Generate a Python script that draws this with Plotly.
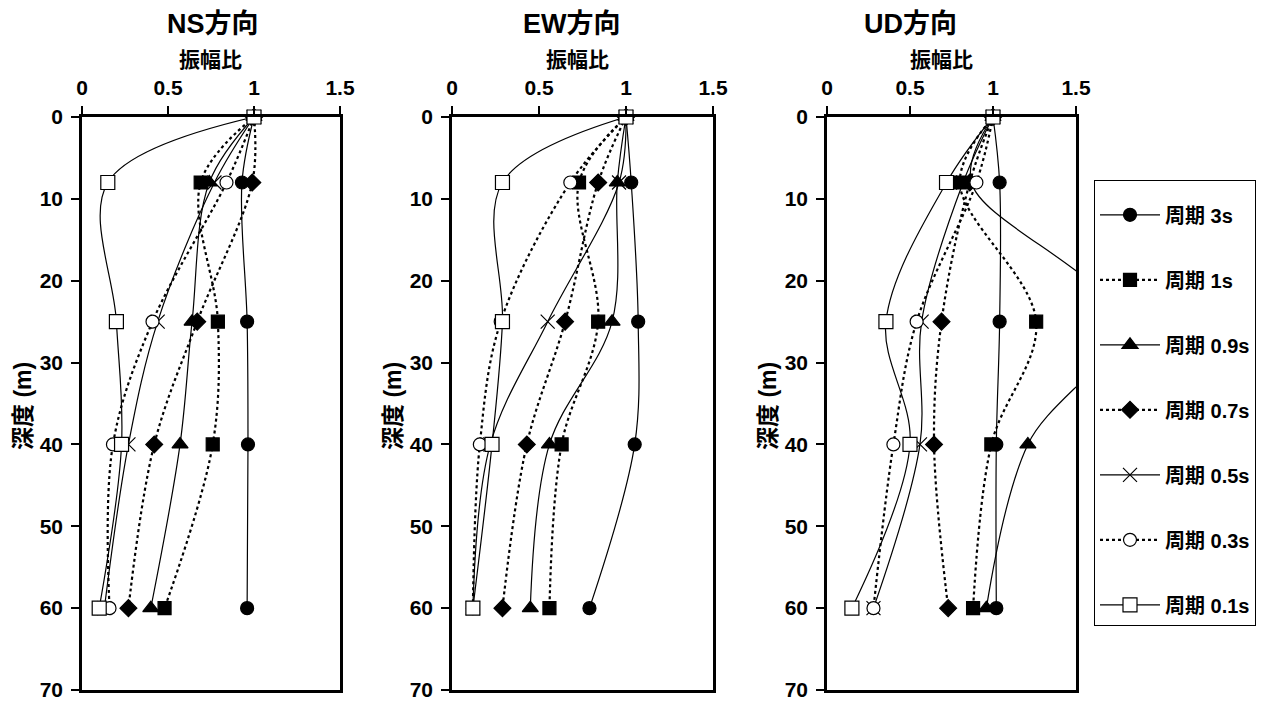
import plotly.graph_objects as go

depths = [0, 8, 25, 40, 60]
periods = ["周期 3s", "周期 1s", "周期 0.9s", "周期 0.7s", "周期 0.5s", "周期 0.3s", "周期 0.1s"]

ns_3s = [1, 0.93, 0.96, 0.965, 0.96]
ns_1s = [1, 0.69, 0.79, 0.76, 0.48]
ns_09s = [1, 0.74, 0.64, 0.57, 0.40]
ns_07s = [1, 0.99, 0.67, 0.42, 0.27]
ns_05s = [1, 0.77, 0.44, 0.27, 0.13]
ns_03s = [1, 0.84, 0.41, 0.18, 0.16]
ns_01s = [1, 0.15, 0.20, 0.23, 0.10]

ew_3s = [1, 1.03, 1.07, 1.05, 0.79]
ew_1s = [1, 0.73, 0.84, 0.63, 0.56]
ew_09s = [1, 0.95, 0.92, 0.56, 0.45]
ew_07s = [1, 0.84, 0.65, 0.43, 0.29]
ew_05s = [1, 0.96, 0.55, 0.22, 0.12]
ew_03s = [1, 0.68, 0.28, 0.16, 0.12]
ew_01s = [1, 0.29, 0.29, 0.23, 0.12]

ud_3s = [1, 1.04, 1.04, 1.02, 1.02]
ud_1s = [1, 0.80, 1.26, 0.99, 0.88]
ud_09s = [1, 0.87, 1.75, 1.21, 0.96]
ud_07s = [1, 0.86, 0.69, 0.645, 0.73]
ud_05s = [1, 0.82, 0.57, 0.56, 0.28]
ud_03s = [1, 0.90, 0.54, 0.40, 0.28]
ud_01s = [1, 0.72, 0.355, 0.50, 0.15]

panel_titles = ["NS方向", "EW方向", "UD方向"]
x_title = "振幅比"
y_title = "深度 (m)"
x_ticks = [0, 0.5, 1, 1.5]
x_ticklabels = ["0", "0.5", "1", "1.5"]
y_ticks = [0, 10, 20, 30, 40, 50, 60, 70]

panels = [
    [ns_3s, ns_1s, ns_09s, ns_07s, ns_05s, ns_03s, ns_01s],
    [ew_3s, ew_1s, ew_09s, ew_07s, ew_05s, ew_03s, ew_01s],
    [ud_3s, ud_1s, ud_09s, ud_07s, ud_05s, ud_03s, ud_01s],
]

# page body has an 8px margin: figure is placed at (8, 8) in the window
OFF = 8
W, H = 1269 - OFF, 705 - OFF


def fx(px):
    return (px - OFF) / W


def fy(py):
    return 1 - (py - OFF) / H


px_x = [(82, 340), (452, 713), (827, 1076)]
top_px, bot_px = 117, 690
title_cx = [213, 572, 910]
xtitle_cx = [210, 577, 941]

styles = [
    dict(symbol="circle", size=13, color="black", dash="solid", lw=1.2),
    dict(symbol="square", size=13, color="black", dash="dot", lw=2.2),
    dict(symbol="triangle-up", size=14, color="black", dash="solid", lw=1.2),
    dict(symbol="diamond", size=13, color="black", dash="dot", lw=2.2),
    dict(symbol="x-thin-open", size=14, color="black", dash="solid", lw=1.2),
    dict(symbol="circle", size=13, color="white", dash="dot", lw=2.2),
    dict(symbol="square", size=14, color="white", dash="solid", lw=1.2),
]

FONT = "Liberation Sans, Arial, Noto Sans CJK JP"

fig = go.Figure()
for p, series in enumerate(panels):
    xa = "x" if p == 0 else f"x{p+1}"
    ya = "y" if p == 0 else f"y{p+1}"
    for i, vals in enumerate(series):
        st = styles[i]
        clip = (p == 2 and i == 2)
        fig.add_trace(go.Scatter(
            x=vals, y=depths, xaxis=xa, yaxis=ya,
            mode="lines+markers", name=periods[i],
            legendgroup=periods[i], showlegend=(p == 2),
            line=dict(color="black", width=st["lw"], dash=st["dash"], shape="spline", smoothing=1.0),
            marker=dict(symbol=st["symbol"], size=st["size"], color=st["color"],
                        line=dict(color="black", width=1.2)),
            cliponaxis=clip,
        ))

layout = dict(
    width=W, height=H, margin=dict(l=0, r=0, t=0, b=0, autoexpand=False),
    template="none",
    paper_bgcolor="white", plot_bgcolor="white",
    font=dict(family=FONT, size=20, color="black"),
    legend=dict(x=fx(1094), y=fy(180), xanchor="left", yanchor="top",
                bordercolor="black", borderwidth=1, bgcolor="white",
                font=dict(family=FONT, size=20, color="black", weight="bold"),
                title=dict(text=" ", font=dict(size=11)),
                tracegroupgap=36, itemwidth=60),
)
annotations = []
for p in range(3):
    l, r = px_x[p]
    xk = "xaxis" if p == 0 else f"xaxis{p+1}"
    yk = "yaxis" if p == 0 else f"yaxis{p+1}"
    ya = "y" if p == 0 else f"y{p+1}"
    xa = "x" if p == 0 else f"x{p+1}"
    layout[xk] = dict(domain=[fx(l), fx(r)], range=[0, 1.5], side="top", anchor=ya,
                      tickvals=x_ticks, ticktext=x_ticklabels, ticks="outside", ticklen=8,
                      tickwidth=1.5, tickcolor="black", showline=True, linewidth=2.5,
                      linecolor="black", mirror=True, showgrid=False, zeroline=False,
                      automargin=False,
                      tickfont=dict(size=21, family=FONT, weight="bold"), ticklabelstandoff=3)
    layout[yk] = dict(domain=[fy(bot_px), fy(top_px)], range=[70, 0], anchor=xa,
                      tickvals=y_ticks, ticks="outside", ticklen=8, tickwidth=1.5,
                      tickcolor="black", showline=True, linewidth=2.5, linecolor="black",
                      mirror=True, showgrid=False, zeroline=False, automargin=False,
                      tickfont=dict(size=21, family=FONT, weight="bold"), ticklabelstandoff=4)
    annotations.append(dict(text=panel_titles[p], x=fx(title_cx[p]), y=fy(24),
                            xanchor="center", yanchor="middle",
                            xref="paper", yref="paper", showarrow=False,
                            font=dict(size=27, family=FONT, weight="bold")))
    annotations.append(dict(text=x_title, x=fx(xtitle_cx[p]), y=fy(60),
                            xanchor="center", yanchor="middle",
                            xref="paper", yref="paper", showarrow=False,
                            font=dict(size=21, family=FONT, weight="bold")))
    annotations.append(dict(text=y_title, x=fx(l - 59), y=fy(406),
                            xanchor="center", yanchor="middle",
                            xref="paper", yref="paper", textangle=-90, showarrow=False,
                            font=dict(size=23, family=FONT, weight="bold")))
layout["annotations"] = annotations
fig.update_layout(**layout)
fig.write_html("out.html")
